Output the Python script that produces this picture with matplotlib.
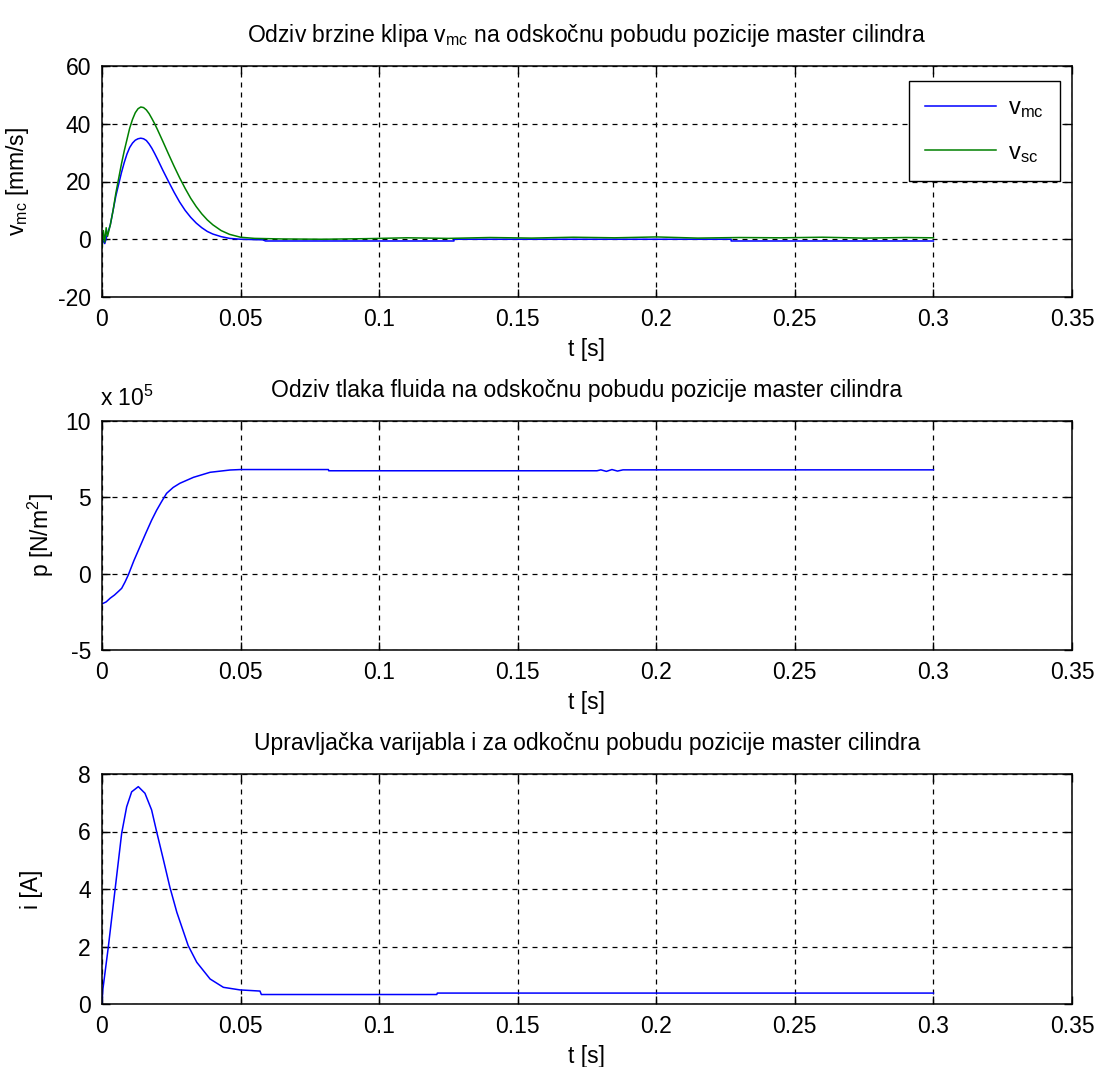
import numpy as np
import matplotlib
matplotlib.use('Agg')
import matplotlib.pyplot as plt

plt.rcParams['font.family'] = ['Liberation Sans', 'DejaVu Sans']
plt.rcParams['mathtext.fontset'] = 'custom'
plt.rcParams['mathtext.rm'] = 'Liberation Sans'
plt.rcParams['mathtext.it'] = 'Liberation Sans:italic'
plt.rcParams['axes.unicode_minus'] = False
plt.rcParams['font.size'] = 16

# brzina master / slave cilindra [mm/s]
t_mc = [0, 0.001, 0.002, 0.003, 0.004, 0.005, 0.006, 0.007, 0.008, 0.009, 0.010,
        0.011, 0.012, 0.013, 0.014, 0.015, 0.016, 0.017, 0.018, 0.019, 0.020,
        0.022, 0.024, 0.026, 0.028, 0.030, 0.032, 0.034, 0.036, 0.038, 0.040,
        0.043, 0.046, 0.050, 0.058, 0.059, 0.127, 0.127, 0.227, 0.227, 0.300]
v_mc = [0, -1.5, 2, 5, 10, 15, 19, 23, 26.5, 29.5, 31.8,
        33.3, 34.3, 34.8, 35, 34.8, 34.2, 33, 31.5, 29.7, 27.8,
        23.8, 20, 16.3, 12.9, 10, 7.6, 5.6, 4, 2.7, 1.8,
        0.9, 0.3, 0, -0.2, -0.6, -0.6, 0, 0, -0.6, -0.6]

t_sc = [0, 0.0005, 0.001, 0.0015, 0.002, 0.003, 0.004, 0.005, 0.006, 0.007, 0.008,
        0.009, 0.010, 0.011, 0.012, 0.013, 0.014, 0.015, 0.016, 0.017, 0.018,
        0.019, 0.020, 0.022, 0.024, 0.026, 0.028, 0.030, 0.032, 0.034, 0.036,
        0.038, 0.040, 0.043, 0.046, 0.050, 0.055, 0.065, 0.080, 0.095, 0.110,
        0.125, 0.140, 0.155, 0.170, 0.185, 0.200, 0.215, 0.230, 0.245, 0.260,
        0.275, 0.290, 0.300]
v_sc = [-3, 3, -1, 4, 1, 5, 10, 16, 21, 26, 30.5,
        34.5, 38.5, 41.5, 43.8, 45.2, 45.8, 45.6, 44.8, 43.5, 41.8,
        40, 38, 33.8, 29.5, 25.3, 21.3, 17.6, 14.2, 11.3, 8.8,
        6.7, 5, 3, 1.7, 0.7, 0.3, 0.1, 0.0, 0.2, 0.5,
        0.3, 0.6, 0.4, 0.7, 0.5, 0.8, 0.4, 0.6, 0.5, 0.7,
        0.4, 0.6, 0.5]

# tlak fluida [x 1e5 N/m^2]
t_p = [0, 0.0015, 0.003, 0.0045, 0.006, 0.0071, 0.0083, 0.0095, 0.0115, 0.0137,
       0.0158, 0.0179, 0.0197, 0.0215, 0.0233, 0.0257, 0.0281, 0.033, 0.039,
       0.0462, 0.0500, 0.0817, 0.0818, 0.1786, 0.180, 0.182, 0.184, 0.186,
       0.188, 0.1905, 0.300]
p = [-1.98, -1.85, -1.6, -1.4, -1.15, -0.96, -0.55, -0.08, 0.85, 1.77,
     2.65, 3.5, 4.15, 4.72, 5.26, 5.65, 5.92, 6.31, 6.64,
     6.79, 6.82, 6.82, 6.74, 6.74, 6.8, 6.7, 6.82, 6.72, 6.8, 6.8, 6.8]

# upravljacka struja [A]
t_i = [0, 0.0003, 0.0023, 0.0047, 0.0071, 0.0089, 0.0107, 0.0131, 0.0155, 0.0179,
       0.0197, 0.0221, 0.0245, 0.027, 0.0311, 0.0342, 0.039, 0.0438, 0.0498,
       0.057, 0.0575, 0.1208, 0.121, 0.300]
i_A = [0, 0.5, 2.0, 3.97, 5.94, 6.86, 7.38, 7.56, 7.33, 6.75,
       6.0, 5.04, 4.06, 3.19, 2.03, 1.45, 0.87, 0.58, 0.49,
       0.45, 0.33, 0.33, 0.38, 0.38]

W, H = 1097, 1067
fig = plt.figure(figsize=(W / 100, H / 100), dpi=100)

def px_axes(top, bottom):
    return fig.add_axes([102 / W, 1 - bottom / H, 970 / W, (bottom - top) / H])

def style(ax, ylim, yticks, title):
    ax.set_xlim(0, 0.35)
    ax.set_xticks([0, 0.05, 0.1, 0.15, 0.2, 0.25, 0.3, 0.35])
    ax.set_xticklabels(['0', '0.05', '0.1', '0.15', '0.2', '0.25', '0.3', '0.35'])
    ax.set_ylim(*ylim)
    ax.set_yticks(yticks)
    ax.grid(True, color='black', linestyle=(0, (4, 4)), linewidth=0.9)
    ax.tick_params(direction='in', top=True, right=True, length=6, width=1,
                   labelsize=16.5, pad=8)
    for s in ax.spines.values():
        s.set_linewidth(1.1)
    ax.set_xlabel('t [s]', fontsize=16.5, labelpad=5)
    ax.set_title(title, fontsize=16.5, pad=17)

ax1 = px_axes(66, 297)
ax1.plot(t_mc, v_mc, color='#0000ff', lw=1.1, label=r'v$_{\mathrm{mc}}$')
ax1.plot(t_sc, v_sc, color='#008000', lw=1.1, label=r'v$_{\mathrm{sc}}$')
style(ax1, (-20, 60), [-20, 0, 20, 40, 60],
      r'Odziv brzine klipa v$_{\mathrm{mc}}$ na odskočnu pobudu pozicije master cilindra')
ax1.set_ylabel(r'v$_{\mathrm{mc}}$ [mm/s]', fontsize=16.5, labelpad=19)
leg = ax1.legend(loc='upper right', bbox_to_anchor=(0.9876, 0.935), fontsize=17,
                 frameon=True, fancybox=False, framealpha=1, edgecolor='black',
                 handlelength=3.0, borderpad=0.7, labelspacing=0.9,
                 handletextpad=0.5, borderaxespad=0)
leg.get_frame().set_linewidth(1.0)

ax2 = px_axes(421, 650)
ax2.plot(t_p, p, color='#0000ff', lw=1.1)
style(ax2, (-5, 10), [-5, 0, 5, 10],
      'Odziv tlaka fluida na odskočnu pobudu pozicije master cilindra')
ax2.set_ylabel(r'p [N/m$^2$]', fontsize=16.5, labelpad=7)
ax2.text(-0.002, 1.045, r'x 10$^5$', transform=ax2.transAxes, fontsize=16.5,
         ha='left', va='bottom')

ax3 = px_axes(774, 1004)
ax3.plot(t_i, i_A, color='#0000ff', lw=1.1)
style(ax3, (0, 8), [0, 2, 4, 6, 8],
      'Upravljačka varijabla i za odkočnu pobudu pozicije master cilindra')
ax3.set_ylabel('i [A]', fontsize=16.5, labelpad=25)

fig.savefig('out.png', dpi=100, facecolor='white')
